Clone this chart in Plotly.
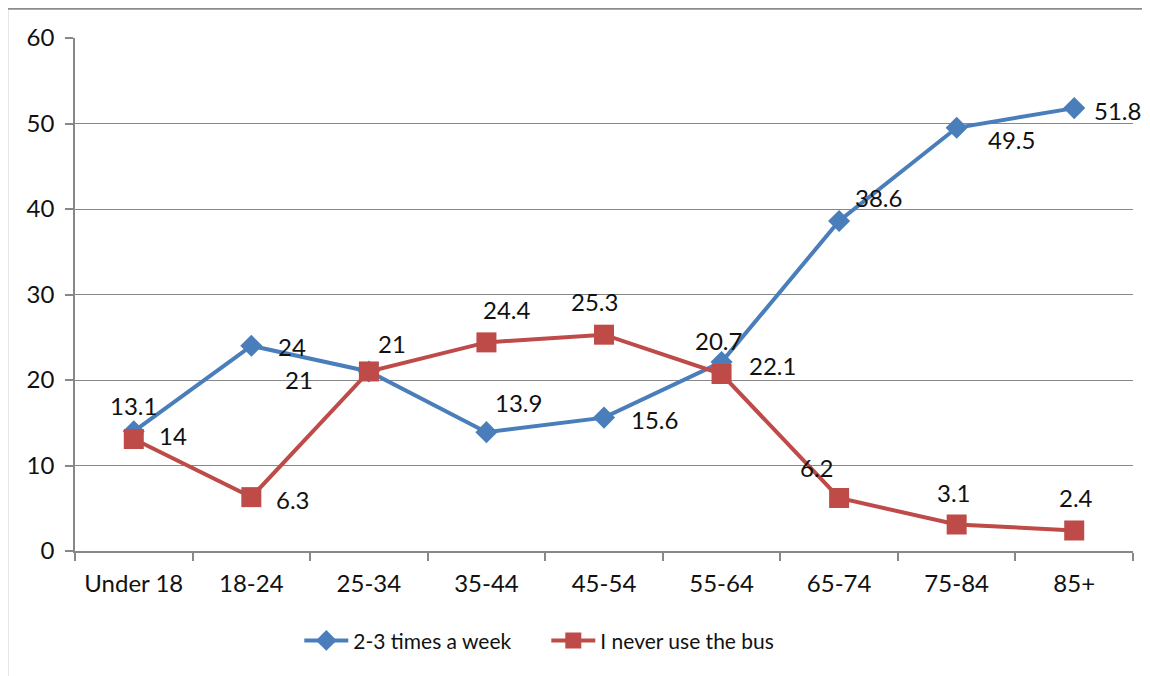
import plotly.graph_objects as go

categories = ["Under 18", "18-24", "25-34", "35-44", "45-54", "55-64", "65-74", "75-84", "85+"]
weekly = [14, 24, 21, 13.9, 15.6, 22.1, 38.6, 49.5, 51.8]
never = [13.1, 6.3, 21, 24.4, 25.3, 20.7, 6.2, 3.1, 2.4]
y_ticks = [0, 10, 20, 30, 40, 50, 60]

BLUE = "#4A7EBB"
RED = "#BE4B48"
GREY = "#888888"
TEXT = "#111111"
FONT = "Lato"

# label offsets in pixels (style only)
weekly_shift = [(39, -4), (41, -1), (-70, -8), (32, 30), (50, -2), (51, -3), (39, 23), (55, -12), (43, -2)]
never_shift = [(0, 34), (42, -2), (23, 28), (21, 33), (-10, 33), (-3, 34), (-22, 30), (-3, 32), (2, 33)]

fig = go.Figure()
fig.add_trace(go.Scatter(
    x=categories, y=weekly, name="2-3 times a week", mode="lines+markers",
    line=dict(color=BLUE, width=4),
    marker=dict(symbol="diamond", size=17, color=BLUE),
))
fig.add_trace(go.Scatter(
    x=categories, y=never, name="I never use the bus", mode="lines+markers",
    line=dict(color=RED, width=4),
    marker=dict(symbol="square", size=20, color=RED),
))

annotations = []
for vals, shifts in ((weekly, weekly_shift), (never, never_shift)):
    for c, v, (dx, dy) in zip(categories, vals, shifts):
        annotations.append(dict(
            x=c, y=v, xref="x", yref="y", text=f"{v:g}", showarrow=False,
            xshift=dx, yshift=dy, font=dict(family=FONT, size=24, color=TEXT),
        ))

fig.update_layout(
    width=1142, height=668,
    margin=dict(l=67, r=17, t=30, b=125),
    paper_bgcolor="white", plot_bgcolor="white",
    font=dict(family=FONT, size=22, color=TEXT),
    showlegend=True,
    legend=dict(orientation="h", x=0.212, xanchor="left", y=-0.135, yanchor="top",
                font=dict(family=FONT, size=21, color=TEXT), itemwidth=44,
                entrywidth=188, entrywidthmode="pixels"),
    annotations=annotations,
    shapes=[
        dict(type="line", xref="paper", yref="paper", x0=-0.0643, x1=-0.0643, y0=1.0576, y1=-0.30,
             line=dict(color="#8c8c8c", width=2.5)),
        dict(type="line", xref="paper", yref="paper", x0=-0.0643, x1=1.05, y0=1.0576, y1=1.0576,
             line=dict(color="#8c8c8c", width=2.5)),
    ],
)
fig.update_xaxes(
    type="category", range=[-0.5, 8.5], tickson="boundaries",
    ticks="outside", ticklen=8, tickcolor=GREY, tickwidth=1.5,
    showline=True, linecolor=GREY, linewidth=1.5, showgrid=False,
    ticklabelstandoff=10, tickfont=dict(family=FONT, size=24, color=TEXT),
)
fig.update_yaxes(
    range=[0, 60], tickvals=y_ticks, ticks="outside", ticklen=8, tickcolor=GREY, tickwidth=1.5,
    showline=True, linecolor=GREY, linewidth=1.5,
    showgrid=True, gridcolor=GREY, gridwidth=1.2, zeroline=False,
    ticklabelstandoff=6, tickfont=dict(family=FONT, size=24, color=TEXT),
)

fig.write_html("out.html")
